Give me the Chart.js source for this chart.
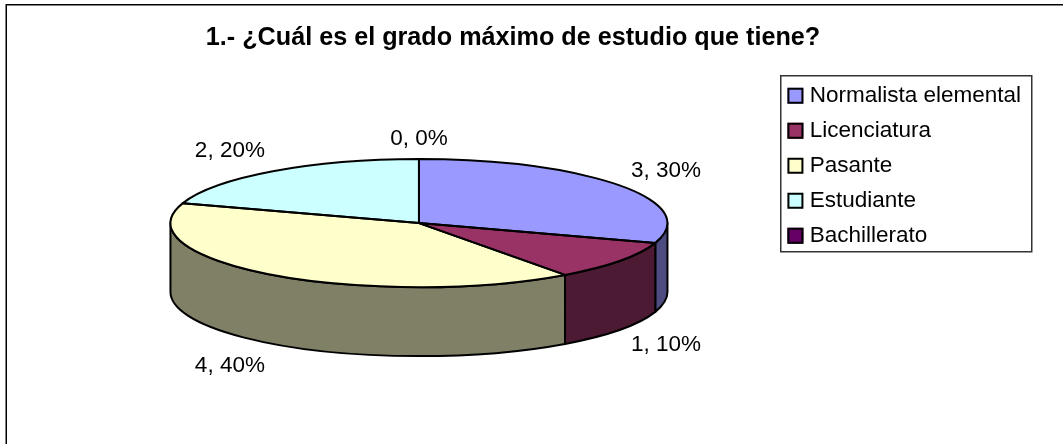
<!DOCTYPE html>
<html><head><meta charset="utf-8">
<style>html,body{margin:0;padding:0;background:#fff}canvas{display:block}</style>
<script src="https://cdn.jsdelivr.net/npm/chart.js@4"></script>
</head><body>
<div style="width:1063px;height:444px"><canvas id="c" width="1063" height="444"></canvas></div>
<script>
const titleText = '1.- ¿Cuál es el grado máximo de estudio que tiene?';
const categories = ['Normalista elemental','Licenciatura','Pasante','Estudiante','Bachillerato'];
const values = [3,1,4,2,0];
const topColors = ['#9999ff','#993366','#ffffcc','#ccffff','#660066'];
const sideColors = ['#4c4c80','#4d1a33','#808066','#668080','#330033'];
const labelOffsets = [[46,-15],[46,15],[-43,22],[-43,-21],[0,-20]];
const FONT = '"Liberation Sans", Arial, sans-serif';
const squash = 64/248.5, depth = 69, radiusPx = 248.5;
const total = values.reduce((a,b)=>a+b,0);

function ellipsePath(ctx, x, y, r, a0, a1, ccw){
  ctx.ellipse(x, y, r, r*squash, 0, a0, a1, !!ccw);
}
const pie3d = {
  id:'pie3d',
  afterLayout(chart){
    const t = chart.titleBlock; t.left = 0; t.right = 1026; t.top = 0; t.bottom = t.height;
  },
  beforeDatasetsDraw(chart){
    const ctx = chart.ctx, arcs = chart.getDatasetMeta(0).data;
    ctx.save();
    ctx.lineWidth = 2; ctx.strokeStyle = '#000'; ctx.lineJoin='round';
    arcs.forEach((arc,i)=>{
      const a0 = Math.max(arc.startAngle, 0), a1 = Math.min(arc.endAngle, Math.PI);
      if (a1 <= a0) return;
      ctx.beginPath();
      ellipsePath(ctx, arc.x, arc.y, arc.outerRadius, a0, a1);
      ellipsePath(ctx, arc.x, arc.y+depth, arc.outerRadius, a1, a0, true);
      ctx.closePath();
      ctx.fillStyle = sideColors[i];
      ctx.fill(); ctx.stroke();
    });
    ctx.restore();
    const a = arcs[0];
    ctx.save();
    ctx.translate(a.x, a.y); ctx.scale(1, squash); ctx.translate(-a.x, -a.y);
  },
  afterDatasetsDraw(chart){
    const ctx = chart.ctx, arcs = chart.getDatasetMeta(0).data;
    ctx.restore();
    ctx.save();
    ctx.lineWidth = 2; ctx.strokeStyle = '#000'; ctx.lineJoin='round';
    arcs.forEach(arc=>{
      if (arc.endAngle - arc.startAngle <= 0) return;
      ctx.beginPath();
      ctx.moveTo(arc.x, arc.y);
      ellipsePath(ctx, arc.x, arc.y, arc.outerRadius, arc.startAngle, arc.endAngle);
      ctx.closePath();
      ctx.stroke();
    });
    ctx.fillStyle = '#000'; ctx.font = '22.5px '+FONT; ctx.textAlign='center'; ctx.textBaseline='middle';
    arcs.forEach((arc,i)=>{
      const mid = (arc.startAngle+arc.endAngle)/2;
      const px = arc.x + Math.cos(mid)*arc.outerRadius + labelOffsets[i][0];
      let py = arc.y + Math.sin(mid)*arc.outerRadius*squash + labelOffsets[i][1];
      if (Math.sin(mid) > 0) py += depth;
      ctx.fillText(values[i]+', '+Math.round(values[i]/total*100)+'%', px, py);
    });
    ctx.restore();
  },
  afterDraw(chart){
    const ctx = chart.ctx, lg = chart.legend;
    ctx.save();
    ctx.strokeStyle='#000'; ctx.lineWidth=1.5;
    ctx.beginPath(); ctx.moveTo(6.25,444); ctx.lineTo(6.25,4.75); ctx.lineTo(1063,4.75); ctx.stroke();
    ctx.strokeStyle='#333'; ctx.lineWidth=1.5;
    ctx.strokeRect(780.75,75.75,251,176);
    lg.legendHitBoxes.forEach((hb,i)=>{
      ctx.fillStyle = topColors[i]; ctx.strokeStyle='#000'; ctx.lineWidth=2;
      const cy = hb.top + hb.height/2;
      ctx.fillRect(hb.left-1, cy-8, 16, 16);
      ctx.strokeRect(hb.left, cy-7, 14, 14);
    });
    ctx.restore();
  }
};
new Chart(document.getElementById('c'),{
  type:'pie',
  data:{labels:categories,datasets:[{data:values,backgroundColor:topColors,borderWidth:0,radius:radiusPx,clip:false}]},
  options:{
    responsive:false,animation:false,
    layout:{padding:{left:62,right:32,top:72,bottom:136}},
    plugins:{
      tooltip:{enabled:false},
      title:{display:true,text:titleText,color:'#000',font:{family:FONT,size:25.2,weight:'bold'},padding:{top:23,bottom:13}},
      legend:{position:'right',align:'start',
        labels:{color:'#000',font:{family:FONT,size:22.5},boxWidth:10,boxHeight:10,padding:12.5}}
    }
  },
  plugins:[pie3d]
});
</script>
</body></html>
